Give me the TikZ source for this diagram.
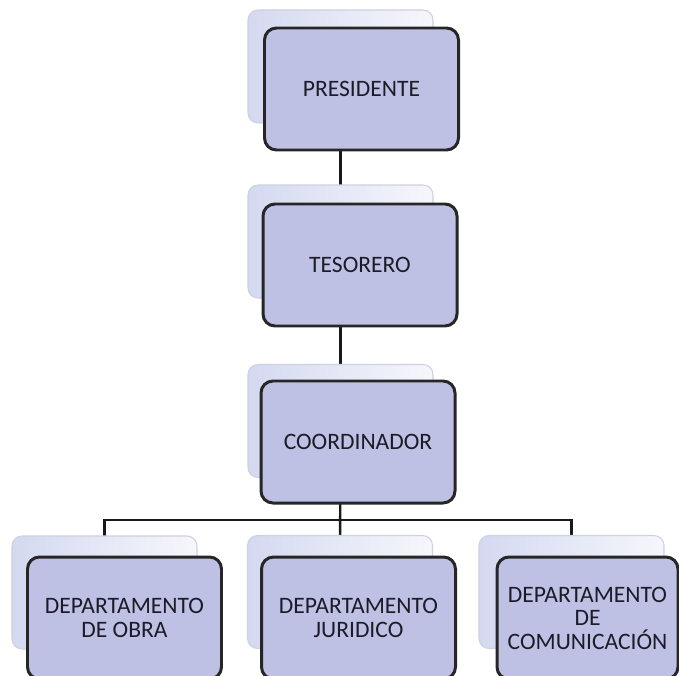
\documentclass[tikz,border=0pt]{standalone}
\usepackage{fontspec}
\setmainfont{Carlito}
\usetikzlibrary{backgrounds}
\definecolor{frontfill}{RGB}{190,192,228}
\definecolor{backleft}{RGB}{212,217,240}
\definecolor{backright}{RGB}{246,247,252}
\definecolor{backline}{RGB}{205,209,224}
\definecolor{textcol}{RGB}{28,28,40}
\begin{document}
\begin{tikzpicture}[
  front/.style={draw=black!85, line width=1.7pt, fill=frontfill, rounded corners=0.24cm,
    minimum width=3.88cm, minimum height=2.44cm, inner sep=0pt, align=center,
    text=textcol, font=\fontsize{13.4}{13.4}\selectfont},
  back/.style={draw=backline, line width=0.6pt, left color=backleft, right color=backright,
    rounded corners=0.2cm, minimum width=3.7cm, minimum height=2.26cm, inner sep=0pt},
  link/.style={line width=1.4pt, black!90}]
\useasboundingbox (0,0) rectangle (13.58,13.5);

% shadow cards
\node[back] (presback) at (6.81,12.17) {};
\node[back] (tesoback) at (6.81,8.67) {};
\node[back] (coorback) at (6.81,5.08) {};
\node[back] (obraback) at (2.09,1.65) {};
\node[back] (jurback) at (6.80,1.66) {};
\node[back] (comback) at (11.43,1.66) {};

% front cards
\node[front] (pres) at (7.23,11.72) {PRESIDENTE};
\node[front] (teso) at (7.20,8.20) {TESORERO};
\node[front] (coor) at (7.16,4.66) {COORDINADOR};
\node[front] (obra) at (2.49,1.14) {DEPARTAMENTO\\DE OBRA};
\node[front] (jur) at (7.17,1.14) {DEPARTAMENTO\\JURIDICO};
\node[front, minimum width=3.62cm] (com) at (11.75,1.14) {DEPARTAMENTO\\DE\\COMUNICACIÓN};

\coordinate (bus) at (6.81,3.10);

\begin{scope}[on background layer]
\draw[link] (presback.center) -- (tesoback.center);
\draw[link] (tesoback.center) -- (coorback.center);
\draw[link] (coorback.center) -- (jurback.center);
\draw[link] (obraback.center) -- (obraback |- bus) -- (comback |- bus) -- (comback.center);
\end{scope}
\end{tikzpicture}
\end{document}
